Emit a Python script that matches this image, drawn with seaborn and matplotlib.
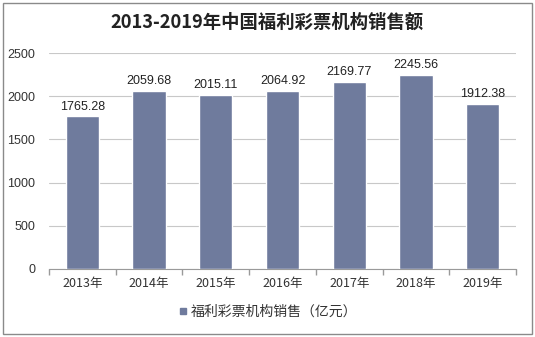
import matplotlib
matplotlib.use("Agg")
import matplotlib.pyplot as plt
import seaborn as sns
import pandas as pd
from matplotlib.patches import Rectangle
from matplotlib.lines import Line2D

years = ["2013年", "2014年", "2015年", "2016年", "2017年", "2018年", "2019年"]
sales = [1765.28, 2059.68, 2015.11, 2064.92, 2169.77, 2245.56, 1912.38]
yticks = [0, 500, 1000, 1500, 2000, 2500]
title = "2013-2019年中国福利彩票机构销售额"
legend_label = "福利彩票机构销售（亿元）"

sns.set_theme(style="white")
plt.rcParams['font.family'] = ['Noto Sans CJK SC', 'DejaVu Sans']

bar_color = "#6F7B9D"
df = pd.DataFrame({"year": years, "sales": sales})

fig = plt.figure(figsize=(5.35, 3.37), dpi=100)
ax = fig.add_axes([0.0916, 0.2018, 0.8729, 0.6409])
sns.barplot(data=df, x="year", y="sales", color=bar_color, width=0.5,
            saturation=1, ax=ax, zorder=3)
ax.set_ylim(0, 2500)
ax.set_xlim(-0.5, len(years) - 0.5)
ax.set_yticks(yticks)
ax.set_yticklabels([str(v) for v in yticks], fontsize=9, color="#333333",
                   family=['Liberation Sans', 'DejaVu Sans'])
ax.set_xticks(range(len(years)))
ax.set_xticklabels(years, fontsize=9, color="#333333")
ax.set_xlabel("")
ax.set_ylabel("")
ax.yaxis.grid(True, color="#C8C8C8", linewidth=0.8, zorder=0)
ax.xaxis.grid(False)
for s in ["top", "right", "left"]:
    ax.spines[s].set_visible(False)
ax.spines["bottom"].set_color("#9A9A9A")
ax.spines["bottom"].set_linewidth(0.8)
ax.tick_params(axis="x", length=0, pad=6)
ax.tick_params(axis="y", length=0, pad=10)
ax.set_xticks([i - 0.5 for i in range(len(years) + 1)], minor=True)
ax.tick_params(axis="x", which="minor", length=4, color="#9A9A9A", bottom=True)

for i, v in enumerate(sales):
    ax.text(i, v + 45, f"{v:.2f}", ha="center", va="bottom", fontsize=9,
            color="#222222", family=['Liberation Sans', 'DejaVu Sans'])

fig.text(0.5, 0.935, title, ha="center", va="center", fontsize=13.2,
         fontweight="bold", color="#222222")

handle = Line2D([], [], marker="s", linestyle="none", markersize=5,
                markerfacecolor=bar_color, markeredgecolor=bar_color)
fig.legend([handle], [legend_label], loc="center", bbox_to_anchor=(0.5, 0.075),
           frameon=False, fontsize=10, handletextpad=0.2, handlelength=0.8,
           labelcolor="#333333")

fig.patches.append(Rectangle((0.006, 0.01), 0.988, 0.98, transform=fig.transFigure,
                             fill=False, edgecolor="#8A8A8A", linewidth=1.0))

fig.savefig("out.png", dpi=100)
